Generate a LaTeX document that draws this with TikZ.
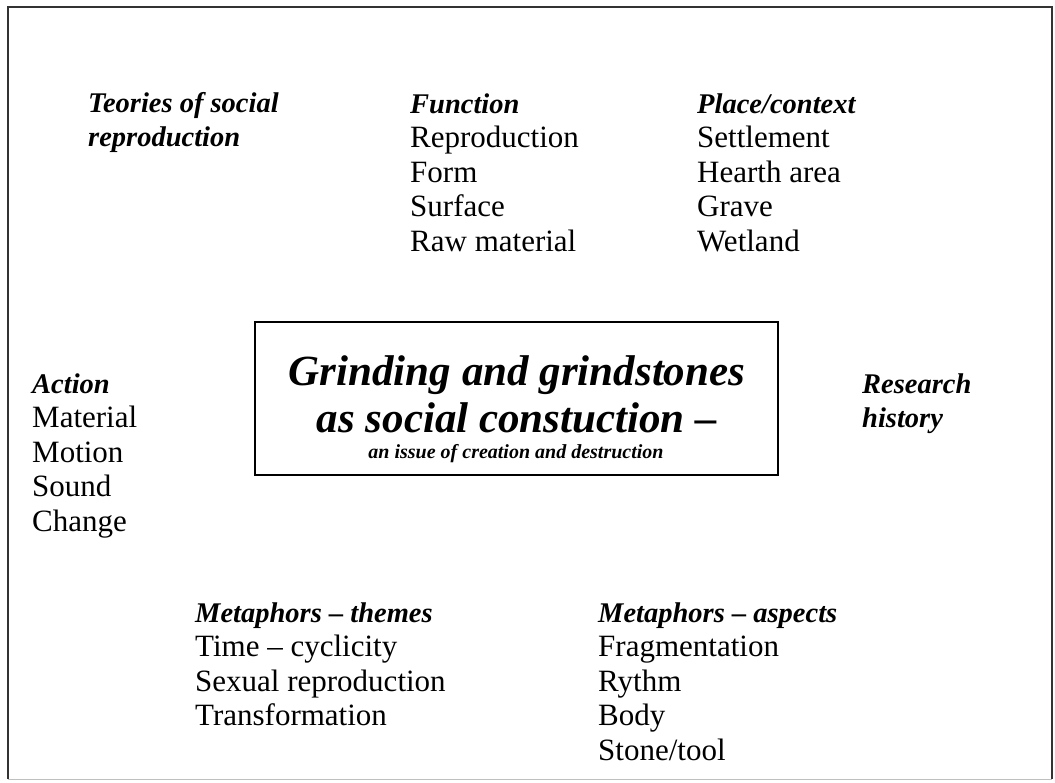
\documentclass[tikz,border=0pt]{standalone}
\usepackage{fontspec}
\setmainfont{Liberation Serif}
\tikzset{
  col/.style={anchor=base west, align=left, inner sep=0pt, font=\fontsize{31}{34.5}\selectfont},
  frame/.style={line width=1.5pt, black!80},
}
\newcommand{\hd}[1]{{\fontsize{28.5}{34.5}\selectfont\bfseries\itshape #1}}
\begin{document}
\begin{tikzpicture}[x=1pt,y=-1pt]
\useasboundingbox (0,0) rectangle (1055,782);
% outer frame
\draw[frame] (8,779) -- (8,7) -- (1052,7) -- (1052,779);
\draw[black!25] (8,779) -- (1052,779);
% top row (base = last line)
\node[col] (teo) at (88,146.5) {\hd{Teories of social}\\\hd{reproduction}};
\node[col] (fun) at (410,251) {\hd{Function}\\Reproduction\\Form\\Surface\\Raw material};
\node[col] (pla) at (697,251) {\hd{Place/context}\\Settlement\\Hearth area\\Grave\\Wetland};
% middle row
\node[col] (act) at (32,531) {\hd{Action}\\Material\\Motion\\Sound\\Change};
\node[draw, line width=1.6pt, minimum width=523pt, minimum height=153pt, inner sep=0pt] (core) at (516.5,398.5) {};
\node[anchor=base, align=center, inner sep=0pt, font=\fontsize{43}{47}\selectfont\bfseries\itshape] (ttl) at (517,432) {Grinding and grindstones\\as social constuction --};
\node[anchor=base, inner sep=0pt, font=\fontsize{20}{24}\selectfont\bfseries\itshape] (sub) at (516,458) {an issue of creation and destruction};
\node[col] (res) at (862,427.5) {\hd{Research}\\\hd{history}};
% bottom row
\node[col] (the) at (195,725.5) {\hd{Metaphors -- themes}\\Time -- cyclicity\\Sexual reproduction\\Transformation};
\node[col] (asp) at (598,760) {\hd{Metaphors -- aspects}\\Fragmentation\\Rythm\\Body\\Stone/tool};
\end{tikzpicture}
\end{document}
